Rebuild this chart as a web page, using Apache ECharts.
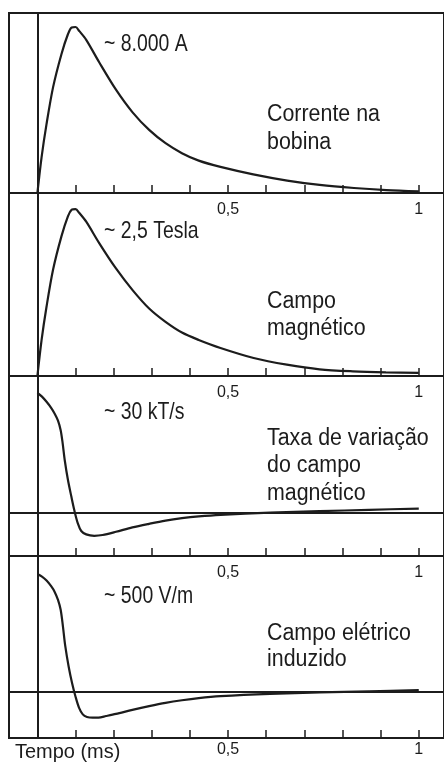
<!DOCTYPE html>
<html>
<head>
<meta charset="utf-8">
<script src="https://cdn.jsdelivr.net/npm/echarts@6/dist/echarts.min.js"></script>
<style>
html,body{margin:0;padding:0;background:#fff;}
#chart{width:444px;height:772px;}
</style>
</head>
<body>
<div id="chart"></div>
<script>
// ---- data (time in ms) ----
const tCurrent = [0, 0.011, 0.024, 0.041, 0.063, 0.08, 0.09, 0.1, 0.11, 0.128, 0.162, 0.206, 0.249, 0.293, 0.336, 0.379, 0.423, 0.48, 0.566, 0.655, 0.74, 0.83, 0.915, 1.0];
const current = [0, 1730, 3330, 5090, 6690, 7650, 7980, 8000, 7800, 7380, 6300, 4980, 3900, 3040, 2400, 1920, 1560, 1260, 900, 600, 390, 240, 140, 75];

const tField = [0, 0.011, 0.024, 0.041, 0.063, 0.08, 0.09, 0.1, 0.11, 0.128, 0.162, 0.206, 0.249, 0.293, 0.336, 0.379, 0.423, 0.48, 0.567, 0.654, 0.74, 0.827, 0.914, 1.0];
const field = [0, 0.54, 1.04, 1.59, 2.09, 2.39, 2.49, 2.5, 2.44, 2.31, 1.99, 1.61, 1.29, 1.01, 0.81, 0.65, 0.54, 0.42, 0.27, 0.17, 0.1, 0.07, 0.055, 0.048];

const tRate = [0, 0.012, 0.024, 0.036, 0.045, 0.054, 0.061, 0.066, 0.072, 0.080, 0.089, 0.097, 0.106, 0.115, 0.128, 0.149, 0.171, 0.206, 0.249, 0.293, 0.336, 0.379, 0.423, 0.48, 0.61, 0.74, 0.87, 1.0];
const rate = [30, 29.1, 27.8, 26.3, 24.9, 23.1, 20.7, 17.6, 13.0, 8.3, 4.1, 0.6, -2.6, -4.5, -5.35, -5.7, -5.5, -4.7, -3.6, -2.7, -1.9, -1.3, -0.85, -0.45, 0.1, 0.45, 0.8, 1.1];

const tElectric = [0, 0.012, 0.024, 0.036, 0.045, 0.054, 0.061, 0.067, 0.073, 0.082, 0.091, 0.1, 0.109, 0.119, 0.13, 0.145, 0.16, 0.18, 0.206, 0.249, 0.293, 0.336, 0.379, 0.423, 0.48, 0.61, 0.74, 0.87, 1.0];
const electric = [500, 489, 472, 448, 425, 390, 348, 277, 195, 107, 37, -20, -66, -95, -106, -109, -108.5, -102, -93, -76, -60, -46, -35, -26, -18, -8, -2, 3, 8];

const tickValues = [0.1, 0.2, 0.3, 0.4, 0.5, 0.6, 0.7, 0.8, 0.9, 1.0];
const tickLabels = [0.5, 1];

const valueNotes = ['~ 8.000 A', '~ 2,5 Tesla', '~ 30 kT/s', '~ 500 V/m'];
const panelNames = ['Corrente na\nbobina', 'Campo\nmagnético', 'Taxa de variação\ndo campo\nmagnético', 'Campo elétrico\ninduzido'];
const xTitle = 'Tempo (ms)';

// ---- layout ----
const INK = '#1c1c1c';
const X0 = 37.6, PX = 384;          // pixel of t=0 and pixels per ms
const GL = 9, GR = 447;
const xMin = (GL - X0) / PX, xMax = (GR - X0) / PX;
const panels = [
  {top: 13,  height: 180, min: 0,      max: 8675,  zero: false, margin: 9, t: tCurrent, v: current},
  {top: 193, height: 183, min: 0,      max: 2.74,  zero: false, margin: 9, t: tField, v: field},
  {top: 376, height: 180, min: -10.75, max: 34.25, zero: true,  margin: 9, t: tRate, v: rate},
  {top: 556, height: 182, min: -195,   max: 576,   zero: true,  margin: 4, t: tElectric, v: electric}
];

const grid = [], xAxis = [], yAxis = [], series = [];
panels.forEach((p, i) => {
  grid.push({left: GL, width: GR - GL, top: p.top, height: p.height, show: true,
             borderColor: INK, borderWidth: 2, backgroundColor: 'transparent'});
  xAxis.push({type: 'value', gridIndex: i, min: xMin, max: xMax,
    axisLine: {show: false, onZero: false},
    splitLine: {show: false},
    axisTick: {show: true, inside: true, length: 8, customValues: tickValues,
               lineStyle: {color: INK, width: 1.5}},
    axisLabel: {show: true, customValues: tickLabels, margin: p.margin,
                fontSize: 16, color: INK, fontFamily: '"Liberation Sans Narrow", "Liberation Sans", Arial, sans-serif',
                formatter: v => String(v).replace('.', ',')}
  });
  yAxis.push({type: 'value', gridIndex: i, min: p.min, max: p.max,
    axisLine: {show: true, onZero: true, lineStyle: {color: INK, width: 2}},
    axisTick: {show: false}, axisLabel: {show: false}, splitLine: {show: false}
  });
  const s = {type: 'line', xAxisIndex: i, yAxisIndex: i,
    data: p.t.map((t, k) => [t, p.v[k]]),
    showSymbol: false, smooth: 0.3,
    lineStyle: {color: INK, width: 2.2}, silent: true, animation: false};
  if (p.zero) {
    s.markLine = {silent: true, symbol: ['none', 'none'], label: {show: false},
      lineStyle: {color: INK, width: 2, type: 'solid'}, data: [{yAxis: 0}], animation: false};
  }
  series.push(s);
});

const FONT = '"Liberation Sans", Arial, sans-serif';
const graphic = [];
const notePos = [44, 231, 412.5, 596.7];
valueNotes.forEach((txt, i) => {
  graphic.push({type: 'text', x: 104, y: notePos[i], scaleX: 0.81,
    style: {text: txt, font: '24px ' + FONT, fill: INK, align: 'left', verticalAlign: 'middle'}});
});
const namePos = [[129, 28], [315.2, 27], [465.8, 27.5], [646.7, 26.7]];
panelNames.forEach((txt, i) => {
  graphic.push({type: 'text', x: 267, y: namePos[i][0], scaleX: 0.93,
    style: {text: txt, font: '23px ' + FONT, fill: INK, align: 'left', verticalAlign: 'middle',
            lineHeight: namePos[i][1]}});
});
graphic.push({type: 'text', x: 15, y: 752, scaleX: 0.95,
  style: {text: xTitle, font: '21px ' + FONT, fill: INK, align: 'left', verticalAlign: 'middle'}});

const chart = echarts.init(document.getElementById('chart'), null, {renderer: 'canvas'});
chart.setOption({animation: false, backgroundColor: '#fff', grid, xAxis, yAxis, series, graphic});
</script>
</body>
</html>
